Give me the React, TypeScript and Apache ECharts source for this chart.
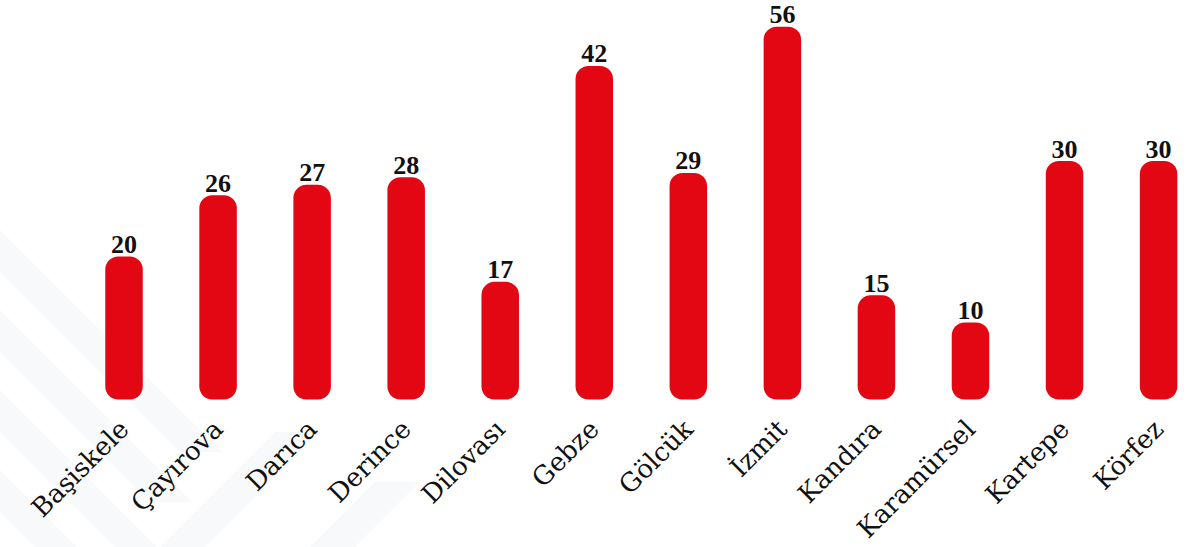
import React, { useEffect, useRef } from "react";
import * as echarts from "echarts";

const categories = [
  "Başiskele",
  "Çayırova",
  "Darıca",
  "Derince",
  "Dilovası",
  "Gebze",
  "Gölcük",
  "İzmit",
  "Kandıra",
  "Karamürsel",
  "Kartepe",
  "Körfez",
];

// bar heights (axis units)
const barValues = [18.0, 25.7, 27.0, 27.95, 14.8, 41.95, 28.5, 46.9, 13.1, 9.7, 30, 30];

// numbers printed above the bars
const printedLabels = ["20", "26", "27", "28", "17", "42", "29", "56", "15", "10", "30", "30"];

const yMax = 50;

export default function App() {
  const ref = useRef<HTMLDivElement>(null);

  useEffect(() => {
    if (!ref.current) return;
    const chart = echarts.init(ref.current, null, { renderer: "svg" });

    const stripeColor = "rgba(238,241,244,0.45)";
    const stripes: any[] = [];
    const bands = [
      [[0, 230], [0, 272], [180, 452], [222, 452]],
      [[0, 310], [0, 352], [150, 502], [192, 502]],
      [[0, 390], [0, 432], [115, 547], [157, 547]],
      [[0, 470], [0, 512], [35, 547], [77, 547]],
      [[160, 547], [205, 547], [320, 432], [275, 432]],
      [[310, 547], [355, 547], [420, 482], [375, 482]],
    ];
    bands.forEach((pts) => {
      stripes.push({
        type: "polygon",
        silent: true,
        z: -10,
        shape: { points: pts },
        style: { fill: stripeColor },
      });
    });

    chart.setOption({
      animation: false,
      backgroundColor: "#ffffff",
      graphic: stripes,
      grid: {
        left: 77,
        width: 1128.6,
        top: 2,
        bottom: 147.5,
        containLabel: false,
      },
      xAxis: {
        type: "category",
        data: categories,
        axisLine: { show: false },
        axisTick: { show: false },
        axisLabel: {
          interval: 0,
          rotate: 45,
          margin: 25,
          fontFamily: "DejaVu Serif",
          fontSize: 26,
          color: "#111111",
        },
      },
      yAxis: {
        type: "value",
        min: 0,
        max: yMax,
        show: false,
        splitLine: { show: false },
      },
      series: [
        {
          type: "bar",
          data: barValues,
          barWidth: 37.5,
          itemStyle: { color: "#e30613", borderRadius: 13 },
          label: {
            show: true,
            position: "top",
            distance: 2,
            fontFamily: "Liberation Serif",
            fontWeight: "bold",
            fontSize: 26,
            lineHeight: 20,
            color: "#111111",
            formatter: (p: any) => printedLabels[p.dataIndex],
          },
        },
      ],
    });

    return () => chart.dispose();
  }, []);

  return (
    <div
      style={{
        position: "absolute",
        left: 0,
        top: 0,
        width: 1195,
        height: 547,
        overflow: "hidden",
      }}
    >
      <div ref={ref} style={{ width: 1215, height: 547 }} />
    </div>
  );
}
